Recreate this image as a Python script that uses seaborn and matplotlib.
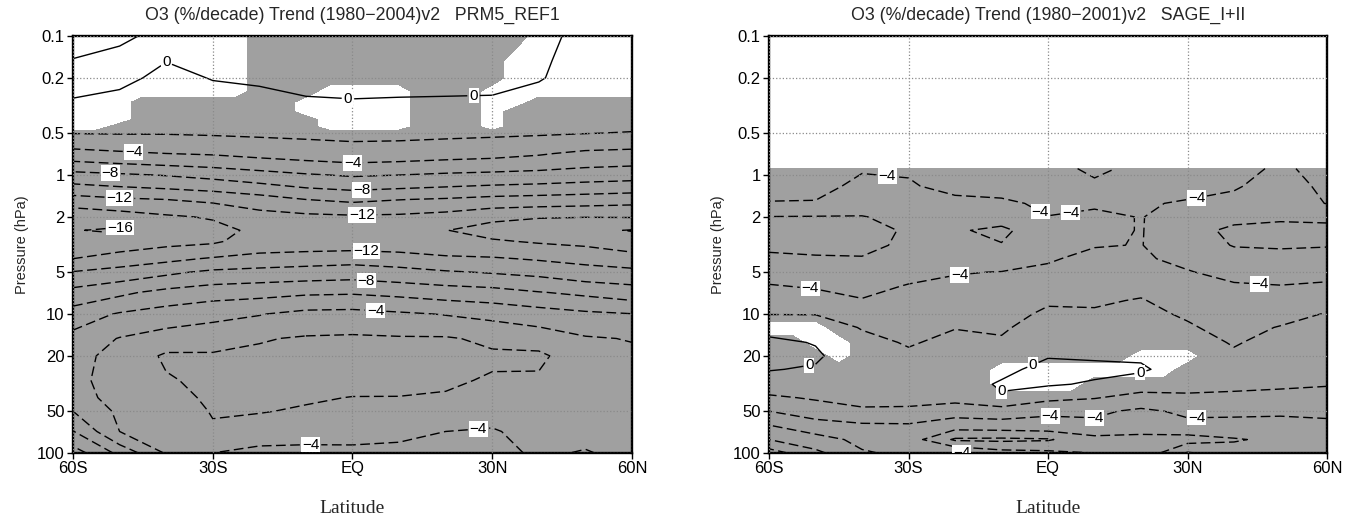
import numpy as np
import matplotlib
matplotlib.use("Agg")
import matplotlib.pyplot as plt
from matplotlib import font_manager
import seaborn as sns

# latitude columns of both trend grids (deg, south negative)
LATS = [-60, -50, -40, -30, -20, -10, 0, 10, 20, 30, 40, 50, 60]

# --- model run PRM5_REF1, 1980-2004 -------------------------------------
PRM5_LEV = [0.1, 0.15, 0.2, 0.3, 0.4, 0.5, 0.7, 1, 1.5, 2, 2.5, 3, 4, 5, 7,
            10, 15, 20, 30, 40, 50, 70, 100]
# ozone trend (%/decade), one list per latitude, top (0.1 hPa) to bottom
PRM5_TREND = {
    -60: [-0.5, 0.05, 0.4, -0.1, -1.0, -1.95, -4.7, -8.7, -12.8, -15.5, -15.9, -15.4,
          -14.0, -11.9, -9.3, -7.1, -5.3, -4.6, -4.5, -4.8, -6.0, -8.1, -11.0],
    -50: [-0.2, 0.35, 0.3, -0.4, -1.1, -1.9, -4.3, -8.3, -12.3, -15.0, -16.3, -15.1,
          -13.2, -11.2, -8.4, -5.8, -3.9, -3.4, -3.2, -3.3, -3.6, -4.0, -7.5],
    -40: [0.3, 0.02, -0.3, -0.7, -1.3, -1.9, -4.0, -7.9, -12.0, -14.3, -15.3, -14.6,
          -12.5, -10.4, -7.4, -5.05, -3.1, -1.7, -2.2, -2.6, -2.9, -3.3, -3.8],
    -30: [0.5, 0.3, 0.05, -0.5, -1.2, -1.8, -3.8, -7.4, -11.6, -13.8, -14.7, -14.3,
          -11.8, -9.6, -6.8, -4.55, -2.7, -1.8, -1.5, -1.7, -1.9, -2.2, -4.0],
    -20: [0.6, 0.4, 0.15, -0.35, -1.1, -1.7, -3.4, -6.8, -10.9, -12.8, -13.5, -13.1,
          -11.4, -9.3, -6.6, -4.1, -2.15, -1.6, -1.3, -1.6, -1.9, -2.96, -4.6],
    -10: [0.6, 0.45, 0.25, -0.1, -1.0, -1.6, -3.1, -6.2, -10.0, -12.5, -13.6, -13.2,
          -11.05, -9.1, -6.3, -3.4, -1.8, -1.4, -1.2, -1.8, -2.2, -3.2, -4.6],
    0: [0.6, 0.45, 0.25, -0.05, -0.9, -1.5, -2.83, -5.8, -9.6, -12.3, -13.5, -13.2,
        -10.8, -8.9, -6.2, -3.3, -1.7, -1.3, -1.4, -2.05, -2.5, -3.3, -4.5],
    10: [0.6, 0.45, 0.25, -0.08, -0.9, -1.5, -2.98, -6.0, -9.95, -12.4, -13.6, -13.3,
         -11.1, -9.3, -6.5, -3.7, -1.8, -1.4, -1.5, -2.05, -2.6, -3.5, -4.6],
    20: [0.55, 0.4, 0.25, -0.1, -1.0, -1.6, -3.2, -6.3, -10.2, -12.8, -13.95, -13.7,
         -11.6, -9.8, -6.9, -4.1, -1.8, -1.5, -1.7, -2.2, -2.8, -4.0, -5.0],
    30: [0.5, 0.35, 0.2, -0.1, -1.0, -1.7, -3.39, -6.5, -10.6, -13.6, -14.7, -13.8,
         -11.8, -10.15, -7.2, -4.5, -2.4, -1.7, -2.2, -2.85, -3.4, -4.15, -4.4],
    40: [0.2, 0.1, 0.05, -0.3, -1.1, -1.8, -3.8, -6.7, -10.8, -13.9, -14.9, -14.2,
         -12.2, -10.5, -7.9, -5.0, -2.9, -1.6, -2.3, -2.7, -3.0, -3.4, -3.8],
    50: [-0.2, -0.25, -0.3, -0.5, -1.2, -1.95, -4.4, -7.0, -11.0, -13.95, -15.6, -14.5,
         -12.6, -11.2, -8.4, -5.6, -3.8, -3.3, -3.1, -3.2, -3.4, -3.6, -4.1],
    60: [-0.6, -0.5, -0.5, -0.7, -1.3, -2.1, -4.6, -7.2, -11.25, -13.9, -16.1, -15.0,
         -13.3, -11.4, -9.0, -5.95, -4.1, -3.6, -3.4, -3.3, -3.3, -3.4, -3.6],
}

# significance (1 = shaded) on a 5 deg grid, -60 .. 60
SIG_LATS = list(range(-60, 65, 5))
PRM5_SIG_LEV = [0.1, 0.15, 0.2, 0.25, 0.3, 0.35, 0.4, 0.45, 0.5, 100]
PRM5_SIG = [
    "0000000011111111111100000",
    "0000000011111111111000000",
    "0000000011111111111000000",
    "0000000011100001110000000",
    "0001111111000001110011111",
    "0001111111000001110111111",
    "0001111111100001110111111",
    "0011111111100001110111111",
    "1111111111111111111111111",
    "1111111111111111111111111",
]

# --- SAGE I+II, 1980-2001 (no data above ~0.9 hPa) ---------------------
SAGE_LEV = [0.9, 1.2, 1.6, 2, 2.5, 3.2, 4, 5, 6.3, 8, 10, 12.5, 16, 20, 25, 32,
            40, 50, 63, 80, 100]
SAGE_TREND = {
    -60: [-3.4, -3.7, -4.05, -6.05, -6.8, -6.4, -5.6, -4.6, -3.9, -3.0, -2.05,
          -0.6, 0.4, 0.6, 0.1, -1.0, -2.3, -4.0, -6.0, -8.0, -11.0],
    -50: [-3.4, -3.6, -4.1, -6.1, -6.9, -6.5, -5.8, -4.9, -4.15, -3.3, -2.05,
          -1.1, -0.1, 0.3, -0.2, -1.2, -1.8, -3.0, -4.8, -6.8, -8.5],
    -40: [-3.9, -4.3, -4.9, -6.1, -6.6, -6.4, -5.9, -5.1, -4.5, -3.9, -3.0,
          -2.1, -1.5, -1.3, -1.2, -1.0, -1.6, -2.2, -4.3, -5.5, -6.2],
    -30: [-3.9, -4.1, -4.6, -5.3, -5.8, -5.7, -5.0, -4.5, -3.9, -3.4, -3.0,
          -2.6, -2.15, -1.7, -1.3, -1.0, -1.5, -2.3, -4.2, -5.0, -5.6],
    -20: [-3.4, -3.7, -4.3, -5.0, -5.8, -5.5, -4.8, -4.1, -3.6, -3.1, -2.6,
          -2.05, -1.6, -1.2, -1.0, -0.8, -1.3, -3.2, -5.0, -8.3, -3.8],
    -10: [-3.3, -3.6, -4.2, -5.2, -6.4, -5.9, -4.9, -3.95, -3.5, -3.0, -2.6,
          -2.2, -1.8, -1.2, -0.4, 0.2, -0.2, -3.0, -4.8, -8.4, -5.2],
    0: [-3.3, -3.5, -3.8, -4.02, -4.8, -4.7, -4.2, -3.6, -2.9, -2.2, -1.7,
        -1.3, -0.8, -0.1, 0.5, 0.2, -1.5, -3.7, -4.6, -8.2, -5.5],
    10: [-4.4, -3.6, -3.8, -4.3, -4.6, -4.1, -3.5, -3.1, -2.6, -2.2, -1.8,
         -1.3, -0.8, -0.2, 0.4, -0.2, -1.9, -3.6, -4.5, -6.6, -6.0],
    20: [-3.5, -3.8, -3.9, -3.95, -3.9, -3.95, -3.8, -3.2, -2.4, -1.9, -1.6,
         -1.3, -0.9, -0.3, 0.3, -1.2, -2.6, -4.4, -5.2, -6.5, -7.5],
    30: [-3.4, -3.7, -4.1, -4.6, -5.5, -5.0, -4.4, -3.9, -3.3, -2.7, -2.2,
         -1.8, -1.5, -1.2, -1.1, -1.3, -2.4, -3.6, -4.5, -6.8, -3.8],
    40: [-3.6, -3.9, -4.3, -5.6, -6.3, -6.1, -5.2, -4.5, -3.8, -3.4, -3.0,
         -2.6, -2.1, -1.8, -1.6, -1.5, -2.5, -3.8, -4.3, -6.2, -5.0],
    50: [-4.2, -4.4, -4.8, -5.8, -6.4, -6.2, -5.4, -4.6, -3.95, -3.2, -2.6,
         -1.9, -1.6, -1.5, -1.5, -1.6, -2.8, -3.9, -4.2, -5.5, -4.5],
    60: [-3.6, -3.8, -3.95, -5.7, -6.4, -6.1, -5.3, -4.4, -3.8, -2.5, -1.9,
         -1.6, -1.5, -1.5, -1.6, -1.8, -3.2, -3.9, -4.1, -4.6, -4.3],
}
SAGE_SIG = [
    "1111111111111111111111111",  # 0.9
    "1111111111111111111111111",  # 1.2
    "1111111111111111111111111",  # 1.6
    "1111111111111111111111111",  # 2
    "1111111111111111111111111",  # 2.5
    "1111111111111111111111111",  # 3.2
    "1111111111111111111111111",  # 4
    "1111111111111111111111111",  # 5
    "1111111111111111111111111",  # 6.3
    "1111111111111111111111111",  # 8
    "1111111111111111111111111",  # 10
    "0001111111111111111111111",  # 12.5
    "1100111111111111111111111",  # 16
    "1110111111111111000111111",  # 20
    "1111111111000000001111111",  # 25
    "1111111111000011111111111",  # 32
    "1111111111111111111111111",  # 40
    "1111111111111111111111111",  # 50
    "1111111111111111111111111",  # 63
    "1111111111111111111111111",  # 80
    "1111111111111111111111111",  # 100
]

P_TICKS = [0.1, 0.2, 0.5, 1, 2, 5, 10, 20, 50, 100]
P_LABELS = ["0.1", "0.2", "0.5", "1", "2", "5", "10", "20", "50", "100"]
LAT_TICKS = [-60, -30, 0, 30, 60]
LAT_LABELS = ["60S", "30S", "EQ", "30N", "60N"]
LABELLED = [-16, -12, -8, -4, 0]      # every other contour carries a label
PLAIN = [-14, -10, -6, -2]

# where the contour labels sit (lat, hPa) - placement only
PRM5_LABEL_AT = [(-40, 0.15), (-1, 0.29), (26, 0.28),
                 (-47, 0.67), (0, 0.83), (-52, 0.95), (2, 1.32), (-50, 1.4),
                 (2, 1.9), (-50, 2.5), (3, 3.5), (3, 5.6), (5, 8.9),
                 (-9, 84), (27, 65)]
SAGE_LABEL_AT = [(-34.5, 0.95), (-2.4, 2.05), (5.5, 2.6), (-19, 5.2),
                 (-51, 6.1), (32, 1.5), (45.5, 6.3), (0.5, 53), (32, 56),
                 (10, 79), (-18, 92), (-51, 27), (-3.5, 22), (-10.5, 40),
                 (20, 28)]

SHADE = "#a0a0a0"

sns.set_theme(style="ticks")
names = {f.name for f in font_manager.fontManager.ttflist}
GR_FONT = "Liberation Sans Narrow" if "Liberation Sans Narrow" in names else "Liberation Sans"
plt.rcParams["font.family"] = [GR_FONT, "DejaVu Sans"]
plt.rcParams["axes.unicode_minus"] = True
plt.rcParams["lines.dashed_pattern"] = [7, 3.2]


def grid_from(cols):
    return np.array([cols[la] for la in LATS]).T


def mask_from(rows):
    return np.array([[int(c) for c in r] for r in rows], dtype=float)


def fmt(v):
    return f"{v:.0f}".replace("-", "\u2212")


def styles(levels):
    return ["dashed" if l < 0 else "solid" for l in levels]


def draw_panel(ax, lev, trend, sig_lev, sig, label_at, title):
    ax.set_yscale("log")
    ax.set_ylim(100, 0.1)
    ax.set_xlim(-60, 60)
    ax.contourf(SIG_LATS, sig_lev, mask_from(sig), levels=[0.5, 1.5],
                colors=[SHADE], zorder=1)
    z = grid_from(trend)
    ax.contour(LATS, lev, z, levels=PLAIN, colors="black", linewidths=1.0,
               linestyles=styles(PLAIN), zorder=2)
    cs = ax.contour(LATS, lev, z, levels=LABELLED, colors="black",
                    linewidths=1.0, linestyles=styles(LABELLED), zorder=2)
    texts = ax.clabel(cs, fmt=fmt, fontsize=11, inline=True,
                      inline_spacing=2, manual=label_at)
    for t in texts:
        t.set_rotation(0)
        t.set_bbox(dict(facecolor="white", edgecolor="none", pad=0.6))
    ax.set_yticks(P_TICKS)
    ax.set_yticklabels(P_LABELS)
    ax.yaxis.set_minor_locator(matplotlib.ticker.NullLocator())
    ax.set_xticks(LAT_TICKS)
    ax.set_xticklabels(LAT_LABELS)
    ax.tick_params(direction="out", length=4, width=1, labelsize=12, pad=2,
                   colors="black")
    ax.grid(True, linestyle=":", color="#8a8a8a", linewidth=0.9)
    ax.set_axisbelow(False)
    for s in ax.spines.values():
        s.set_linewidth(1.7)
        s.set_color("black")
    ax.set_title(title, fontsize=12.8, pad=12)
    ax.set_ylabel("Pressure (hPa)", fontsize=10.5, labelpad=6)
    ax.set_xlabel("Latitude", fontsize=14, family=["Liberation Serif", "DejaVu Serif"],
                  labelpad=17)


fig = plt.figure(figsize=(13.52, 5.17), dpi=100)
ax1 = fig.add_axes([73 / 1352, 1 - 453 / 517, 559 / 1352, 417 / 517])
ax2 = fig.add_axes([769 / 1352, 1 - 453 / 517, 558 / 1352, 417 / 517])

draw_panel(ax1, PRM5_LEV, PRM5_TREND, PRM5_SIG_LEV, PRM5_SIG, PRM5_LABEL_AT,
           "O3 (%/decade) Trend (1980\u22122004)v2   PRM5_REF1")
draw_panel(ax2, SAGE_LEV, SAGE_TREND, SAGE_LEV, SAGE_SIG, SAGE_LABEL_AT,
           "O3 (%/decade) Trend (1980\u22122001)v2   SAGE_I+II")

fig.savefig("out.png", dpi=100, facecolor="white")
